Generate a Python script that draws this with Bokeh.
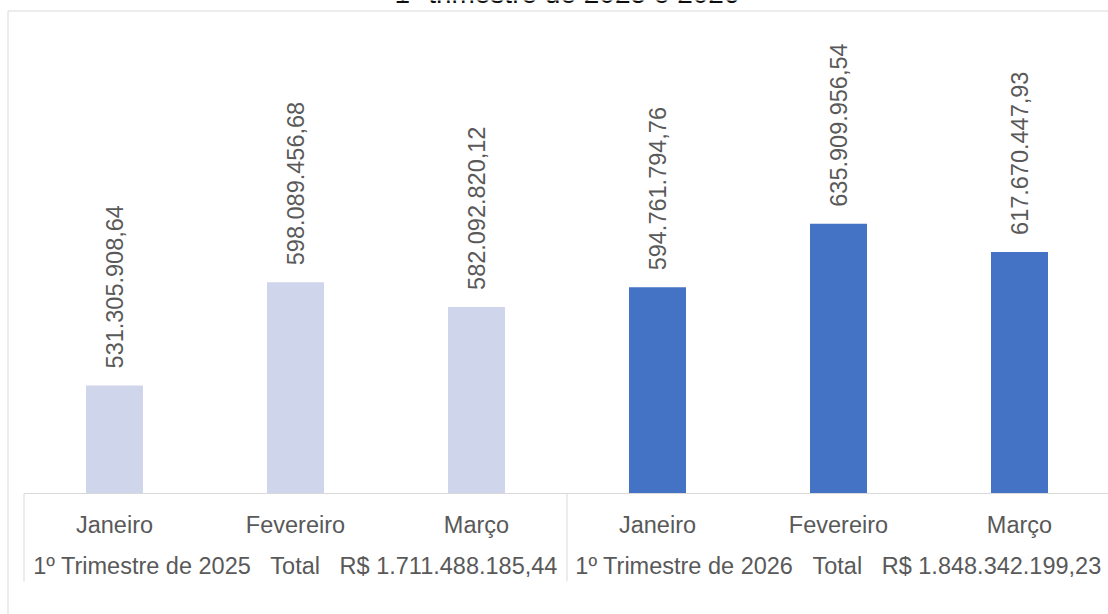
import numpy as np
from bokeh.plotting import figure
from bokeh.models import Range1d
from bokeh.core.properties import value
from bokeh.embed import file_html
from bokeh.resources import INLINE

# ---------------- data ----------------
title = "1º trimestre de 2025 e 2026"
months = ["Janeiro", "Fevereiro", "Março"]
groups = ["1º Trimestre de 2025", "1º Trimestre de 2026"]
values_2025 = [531305908.64, 598089456.68, 582092820.12]
values_2026 = [594761794.76, 635909956.54, 617670447.93]
group_colors = ["#CFD5EA", "#4472C4"]


def br(v):
    s = f"{v:,.2f}"
    return s.replace(",", "X").replace(".", ",").replace("X", ".")


# ---------------- layout constants ----------------
W, H = 1108, 614
base_px = 493          # baseline pixel row
left_px = 23.5         # left edge of category area
cat_px = 181           # pixel width per category
scale = 1.5458e-6      # pixels per unit
y0 = 461.4e6           # value axis minimum

FONT = "Liberation Sans"
GRAY = "#595959"
LINE = "#D9D9D9"
GAP = " \u00a0\u00a0"

x_range = Range1d(-left_px / cat_px, (W - left_px) / cat_px)
y_range = Range1d(y0 - (H - base_px) / scale, y0 + base_px / scale)

p = figure(width=W, height=H, x_range=x_range, y_range=y_range,
           output_backend="svg", toolbar_location=None,
           x_axis_location=None, y_axis_location=None,
           min_border=0, min_border_left=0, min_border_right=0,
           min_border_top=0, min_border_bottom=0,
           margin=(0, 0, 0, 0))
p.grid.visible = False
p.outline_line_color = None
p.background_fill_color = "white"
p.border_fill_color = "white"


def px_x(px):
    return (px - left_px) / cat_px


def px_y(py):
    return y0 + (base_px - py) / scale


# outer chart-area border (top and left visible)
p.line(x=[px_x(7.5), px_x(7.5), px_x(W + 5)],
       y=[px_y(H + 5), px_y(10.5), px_y(10.5)],
       line_color=LINE, line_width=1)

# title (mostly cut off at top)
p.text(x=[len(values_2025 + values_2026) / 2], y=[y_range.end], text=[title],
       text_align="center", text_baseline="alphabetic", y_offset=-7,
       text_font=value(FONT), text_font_size="28px", text_color="#0D0D0D")

# bars
all_vals = values_2025 + values_2026
xs = [i + 0.5 for i in range(len(all_vals))]
cols = [group_colors[0]] * len(values_2025) + [group_colors[1]] * len(values_2026)
p.vbar(x=xs, top=all_vals, bottom=y0, width=0.315, fill_color=cols, line_color=None)

# baseline
p.line(x=[0, x_range.end + 1], y=[y0, y0], line_color=LINE, line_width=1)

# separators of category axis
n = len(values_2025)
p.ray(x=[0, n, 2 * n], y=[y0] * 3, length=88, length_units="screen",
      angle=-np.pi / 2, line_color=LINE, line_width=1)

# data labels
p.text(x=xs, y=all_vals, text=[br(v) for v in all_vals], angle=np.pi / 2,
       text_align="left", text_baseline="middle", y_offset=-17,
       text_font=value(FONT), text_font_size="23.5px", text_color=GRAY)

# month labels
p.text(x=xs, y=[y0] * len(xs), text=months * 2, text_align="center",
       text_baseline="middle", y_offset=31,
       text_font=value(FONT), text_font_size="23.5px", text_color=GRAY)

# group labels
totals = [sum(values_2025), sum(values_2026)]
group_text = [f"{g}{GAP}Total{GAP}R$ {br(t)}" for g, t in zip(groups, totals)]
p.text(x=[n / 2, n + n / 2], y=[y0] * 2, text=group_text, text_align="center",
       text_baseline="middle", y_offset=72,
       text_font=value(FONT), text_font_size="23.5px", text_color=GRAY)

open("out.html", "w").write(file_html(p, INLINE))
